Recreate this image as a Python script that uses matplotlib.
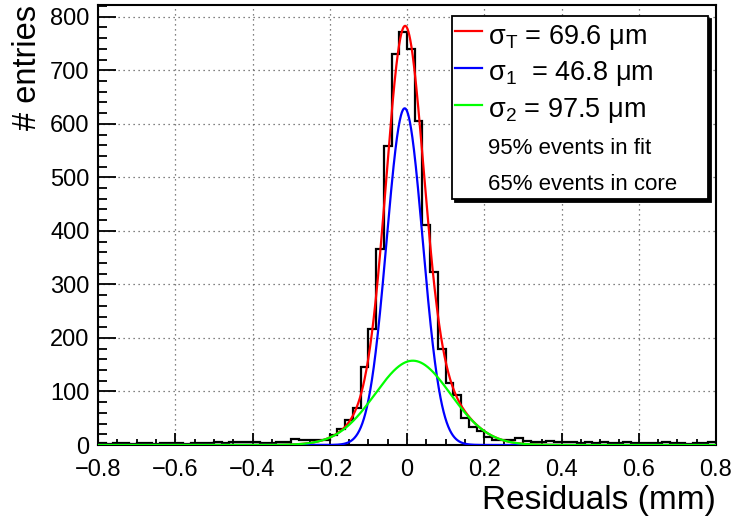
import numpy as np
import matplotlib
matplotlib.use('Agg')
import matplotlib.pyplot as plt
from matplotlib.lines import Line2D
from matplotlib.ticker import MultipleLocator, FuncFormatter

plt.rcParams['font.family'] = ['Liberation Sans', 'DejaVu Sans']
plt.rcParams['mathtext.fontset'] = 'custom'
plt.rcParams['mathtext.rm'] = 'Liberation Sans'

# histogram: 80 bins of 0.02 mm between -0.8 and 0.8
x_min, x_max, n_bins = -0.8, 0.8, 80
counts = [3, 2, 4, 3, 2, 3, 4, 2, 3, 4,
          3, 2, 3, 4, 3, 5, 4, 6, 5, 6,
          6, 4, 3, 6, 6, 12, 10, 9, 9, 10,
          19, 30, 47, 70, 145, 217, 367, 559, 731, 772,
          739, 606, 411, 324, 180, 115, 93, 50, 34, 26,
          15, 10, 9, 9, 13, 8, 6, 5, 7, 5,
          6, 6, 4, 5, 3, 6, 4, 3, 5, 4,
          3, 4, 3, 5, 4, 3, 2, 4, 3, 5]

# double gaussian fit (amplitude, mean [mm], sigma [mm])
core_fit = [629.0, -0.006, 0.0468]
tail_fit = [157.5, 0.015, 0.0975]

legend_labels = ['σ$_\\mathregular{T}$ = 69.6 μm',
                 'σ$_\\mathregular{1}$  = 46.8 μm',
                 'σ$_\\mathregular{2}$ = 97.5 μm',
                 '95% events in fit',
                 '65% events in core']


def gaus(x, amp, mean, sigma):
    return amp * np.exp(-0.5 * ((x - mean) / sigma) ** 2)


fig = plt.figure(figsize=(7.35, 5.21), dpi=100)
ax = fig.add_axes([98 / 735, 76 / 521, 618 / 735, 440 / 521])

edges = np.linspace(x_min, x_max, n_bins + 1)
ax.stairs(counts, edges, color='black', lw=1.6, zorder=3)

xs = np.linspace(x_min, x_max, 2000)
core = gaus(xs, *core_fit)
tail = gaus(xs, *tail_fit)
l_tot, = ax.plot(xs, core + tail, color='red', lw=1.6, zorder=4)
l_core, = ax.plot(xs, core, color='blue', lw=1.6, zorder=5)
l_tail, = ax.plot(xs, tail, color='#00ff00', lw=1.6, zorder=6)

ax.set_xlim(x_min, x_max)
ax.set_ylim(0, 822)
ax.xaxis.set_major_locator(MultipleLocator(0.2))
ax.xaxis.set_minor_locator(MultipleLocator(0.05))
ax.yaxis.set_major_locator(MultipleLocator(100))
ax.yaxis.set_minor_locator(MultipleLocator(20))
fmt = FuncFormatter(lambda v, _: ('%g' % (round(v, 2) + 0.0)).replace('-', '\u2212'))
ax.xaxis.set_major_formatter(fmt)

ax.tick_params(which='both', direction='in', top=False, right=False, width=1.3, labelsize=17)
ax.tick_params(axis='x', which='major', length=8.6, pad=10)
ax.tick_params(axis='x', which='minor', length=4.3)
ax.tick_params(axis='y', which='major', length=13, pad=6)
ax.tick_params(axis='y', which='minor', length=6.5)
for s in ax.spines.values():
    s.set_linewidth(1.5)

ax.grid(True, which='major', ls=(0, (1, 3)), color='0.35', lw=0.9)
ax.set_axisbelow(True)

ax.set_xlabel('Residuals (mm)', loc='right', fontsize=24, labelpad=3)
ax.set_ylabel('# entries', loc='top', fontsize=23.5, labelpad=5)

handles = [l_tot, l_core, l_tail, Line2D([], [], ls='none'), Line2D([], [], ls='none')]
leg = ax.legend(handles, legend_labels, loc='upper left',
                bbox_to_anchor=(0.5728, 0.975, 0.4142, 0), mode='expand',
                borderaxespad=0, fontsize=19.5, handlelength=1.0, handletextpad=0.2,
                handleheight=1.36, labelspacing=0.17, borderpad=0.12, fancybox=False,
                framealpha=1, edgecolor='black',
                shadow={'color': 'black', 'alpha': 1, 'ox': 2.2, 'oy': -2.2})
leg.get_frame().set_linewidth(1.3)
for t in leg.get_texts()[3:]:
    t.set_fontsize(16)

fig.savefig('out.png', dpi=100)
